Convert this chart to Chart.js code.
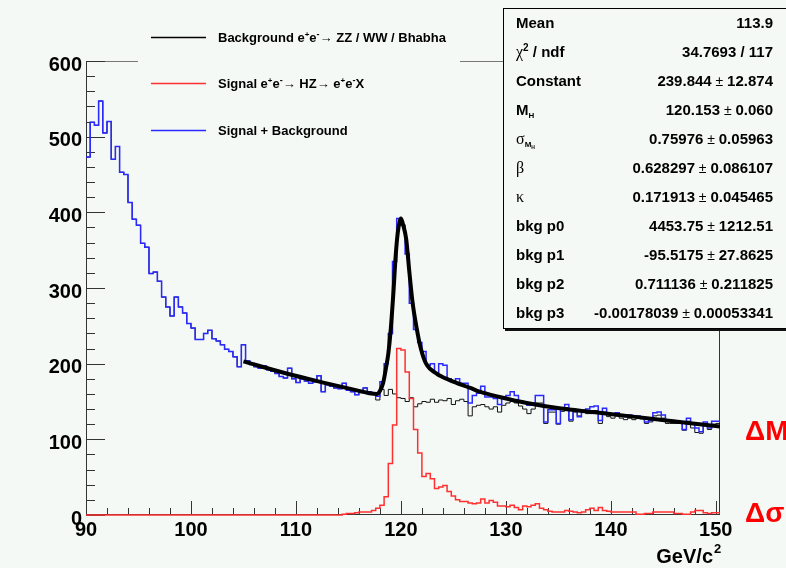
<!DOCTYPE html>
<html>
<head>
<meta charset="utf-8">
<script src="https://cdn.jsdelivr.net/npm/chart.js@4.4.1/dist/chart.umd.min.js"></script>
<style>
html, body { margin: 0; padding: 0; background: #f4f9f6; overflow: hidden; }
</style>
</head>
<body>
<canvas id="mass-chart" width="786" height="568"></canvas>
<script>
// binning of the histograms (GeV/c^2)
const binLow = 90;
const binWidth = 0.4;

// Signal + Background (blue)
const sigBkg = [
    473, 519, 515, 547, 505, 520, 470, 487, 453, 450,
    413, 391, 383, 359, 354, 319, 321, 309, 288, 275,
    263, 288, 275, 267, 253, 247, 232, 232, 240, 244,
    233, 230, 225, 219, 216, 209, 196, 225, 204, 199,
    196, 194, 197, 192, 190, 187, 183, 181, 194, 180,
    175, 180, 177, 174, 176, 184, 163, 172, 170, 168,
    167, 174, 165, 163, 159, 164, 168, 163, 160, 157,
    176, 200, 240, 335, 392, 383, 345, 280, 245, 228,
    216, 198, 200, 188, 200, 198, 180, 176, 180, 174,
    174, 148, 158, 161, 170, 156, 156, 154, 146, 156,
    158, 163, 158, 151, 148, 145, 148, 158, 158, 123,
    139, 139, 121, 141, 146, 126, 139, 130, 138, 140,
    143, 144, 125, 141, 134, 132, 135, 132, 130, 132,
    130, 131, 128, 123, 125, 135, 136, 132, 125, 125,
    123, 123, 113, 128, 121, 115, 110, 123, 115, 124,
    124
];

// Background e+e- -> ZZ / WW / Bhabha (black)
const background = [
    473, 519, 515, 547, 505, 520, 470, 487, 453, 450,
    413, 391, 383, 359, 354, 319, 321, 309, 288, 275,
    263, 288, 275, 267, 253, 247, 232, 232, 240, 244,
    233, 230, 225, 219, 216, 209, 196, 225, 204, 199,
    196, 194, 197, 192, 190, 187, 183, 181, 194, 180,
    175, 180, 177, 174, 176, 184, 163, 172, 170, 168,
    167, 174, 165, 163, 159, 164, 168, 163, 160, 152,
    166, 158, 166, 160, 155, 154, 150, 155, 143, 147,
    150, 149, 153, 149, 152, 151, 154, 146, 151, 153,
    150, 131, 143, 145, 146, 143, 140, 143, 136, 145,
    148, 150, 148, 144, 140, 134, 140, 148, 148, 121,
    136, 136, 120, 137, 142, 124, 136, 131, 136, 134,
    134, 138, 121, 136, 130, 128, 131, 128, 126, 128,
    126, 130, 127, 121, 123, 131, 132, 128, 121, 121,
    121, 121, 112, 124, 115, 109, 108, 120, 113, 120,
    121
];

// Signal e+e- -> HZ -> e+e-X (red)
const signal = [
    0, 0, 0, 0, 0, 0, 0, 0, 0, 0,
    0, 0, 0, 0, 0, 0, 0, 0, 0, 0,
    0, 0, 0, 0, 0, 0, 0, 0, 0, 0,
    0, 0, 0, 0, 0, 0, 0, 0, 0, 0,
    0, 0, 0, 0, 0, 0, 0, 0, 0, 0,
    0, 0, 0, 0, 0, 0, 0, 0, 0, 0,
    0, 1, 2, 2, 3, 4, 4, 4, 6, 9,
    13, 24, 68, 119, 220, 218, 189, 154, 113, 82,
    51, 55, 48, 35, 37, 39, 31, 25, 20, 18,
    18, 16, 15, 16, 21, 16, 19, 17, 12, 12,
    11, 13, 10, 7, 12, 11, 13, 15, 9, 7,
    5, 4, 4, 4, 6, 5, 4, 3, 4, 7,
    9, 6, 10, 6, 5, 4, 4, 4, 4, 4,
    4, 1, 1, 2, 2, 4, 4, 4, 4, 4,
    2, 2, 1, 1, 4, 6, 6, 3, 2, 3,
    3
];

// fitted function
const fitMass = [105.0, 109.1, 112.3, 115.4, 117.0, 117.7, 118.0, 118.3, 118.6, 118.8,
    119.0, 119.3, 119.5, 119.7, 119.9, 120.0, 120.2, 120.5, 120.8, 121.1,
    121.5, 121.9, 122.4, 123.4, 124.7, 126.6, 127.5, 129.4, 132.0, 135.1,
    138.3, 141.5, 144.7, 147.8, 150.4];
const fitCounts = [203, 187, 176, 166, 161, 160, 164, 174, 196, 213,
    240, 297, 342, 373, 389, 392, 384, 365, 322, 282,
    247, 220, 200, 187, 178, 168, 163, 156, 148, 141,
    136, 131, 126, 121, 117];

// axis ticks
const xTickLabels = [90, 100, 110, 120, 130, 140, 150];
const yTickLabels = [0, 100, 200, 300, 400, 500, 600];

// stats box rows
const statNames = ['Mean', 'chi2', 'Constant', 'MH', 'sigma', 'beta', 'kappa', 'bkg p0', 'bkg p1', 'bkg p2', 'bkg p3'];
const statValues = ['113.9', '34.7693 / 117', '239.844|12.874', '120.153|0.060', '0.75976|0.05963',
    '0.628297|0.086107', '0.171913|0.045465', '4453.75|1212.51', '-95.5175|27.8625',
    '0.711136|0.211825', '-0.00178039|0.00053341'];

const BG = '#f4f9f6';
const B = n => 'bold ' + n + 'px "Liberation Sans", Arial, sans-serif';
const N = n => n + 'px "Liberation Sans", Arial, sans-serif';
const G = n => n + 'px "Liberation Serif", "DejaVu Serif", serif';

// one point per bin low edge, plus the upper edge of the last bin
function histPoints(values) {
    const pts = values.map((v, i) => ({ x: binLow + i * binWidth, y: v }));
    pts.push({ x: binLow + values.length * binWidth, y: values[values.length - 1] });
    return pts;
}

function drawSegs(ctx, segs, x, y, align) {
    let w = 0;
    segs.forEach(s => { ctx.font = s.f; w += ctx.measureText(s.t).width; });
    let cx = align === 'right' ? x - w : x;
    ctx.textAlign = 'left';
    segs.forEach(s => {
        ctx.font = s.f;
        ctx.fillText(s.t, cx, y + (s.dy || 0));
        cx += ctx.measureText(s.t).width;
    });
}

function statLabel(name) {
    if (name === 'chi2') return [{ t: 'χ', f: G(16) }, { t: '2', f: B(10), dy: -6 }, { t: ' / ndf', f: B(15) }];
    if (name === 'MH') return [{ t: 'M', f: B(15) }, { t: 'H', f: B(8), dy: 3 }];
    if (name === 'sigma') return [{ t: 'σ', f: G(16) }, { t: 'M', f: B(8), dy: 3 }, { t: 'H', f: B(5), dy: 5 }];
    if (name === 'beta') return [{ t: 'β', f: G(16) }];
    if (name === 'kappa') return [{ t: 'κ', f: G(16) }];
    return [{ t: name, f: B(15) }];
}

const rootStyle = {
    id: 'rootStyle',
    beforeDraw(chart) {
        const ctx = chart.ctx;
        ctx.save();
        ctx.fillStyle = BG;
        ctx.fillRect(0, 0, chart.width, chart.height);
        ctx.restore();
    },
    beforeDatasetsDraw(chart) {
        const ctx = chart.ctx;
        const xs = chart.scales.x, ys = chart.scales.y;
        const a = chart.chartArea;
        ctx.save();
        ctx.lineWidth = 1;
        // frame
        ctx.strokeStyle = '#777';
        ctx.beginPath();
        ctx.moveTo(a.left, a.top + 0.5);
        ctx.lineTo(a.right, a.top + 0.5);
        ctx.stroke();
        ctx.strokeStyle = '#8b1010';
        ctx.beginPath();
        ctx.moveTo(a.right - 0.5, a.top);
        ctx.lineTo(a.right - 0.5, a.bottom);
        ctx.stroke();
        ctx.strokeStyle = '#333';
        ctx.beginPath();
        ctx.moveTo(a.left + 0.5, a.top);
        ctx.lineTo(a.left + 0.5, a.bottom);
        ctx.moveTo(a.left, a.bottom - 0.5);
        ctx.lineTo(a.right, a.bottom - 0.5);
        ctx.stroke();
        // y ticks, inside the frame
        ctx.beginPath();
        for (let v = 0; v <= 600; v += 20) {
            const py = Math.round(ys.getPixelForValue(v)) + 0.5;
            const len = v % 100 === 0 ? 19 : 9;
            ctx.moveTo(a.left, py);
            ctx.lineTo(a.left + len, py);
        }
        // x ticks
        for (let v = 90; v <= 150; v += 2) {
            const px = Math.round(xs.getPixelForValue(v)) + 0.5;
            const len = v % 10 === 0 ? 14 : 7;
            ctx.moveTo(px, a.bottom);
            ctx.lineTo(px, a.bottom - len);
        }
        ctx.stroke();
        ctx.restore();
    },
    afterDraw(chart) {
        const ctx = chart.ctx;
        const xs = chart.scales.x, ys = chart.scales.y;
        ctx.save();
        ctx.fillStyle = '#000';
        ctx.textBaseline = 'alphabetic';

        // tick labels
        ctx.font = B(20);
        ctx.textAlign = 'right';
        yTickLabels.forEach(v => ctx.fillText(String(v), 82, ys.getPixelForValue(v) + 9.5));
        ctx.textAlign = 'center';
        xTickLabels.forEach(v => ctx.fillText(String(v), xs.getPixelForValue(v), 536));

        // axis title
        drawSegs(ctx, [{ t: 'GeV/c', f: B(20) }], 713, 563, 'right');
        drawSegs(ctx, [{ t: '2', f: B(13) }], 714, 553, 'left');

        // legend box (no border, hides the frame top)
        ctx.fillStyle = BG;
        ctx.fillRect(138, 4, 322, 152);
        const legend = [
            { c: '#000000', y: 37, segs: [{ t: 'Background e', f: B(13) }, { t: '+', f: B(8), dy: -5 }, { t: 'e', f: B(13) }, { t: '-', f: B(9), dy: -5 }, { t: '→ ZZ / WW / Bhabha', f: B(13) }] },
            { c: '#ff3030', y: 83, segs: [{ t: 'Signal e', f: B(13) }, { t: '+', f: B(8), dy: -5 }, { t: 'e', f: B(13) }, { t: '-', f: B(9), dy: -5 }, { t: '→ HZ→ e', f: B(13) }, { t: '+', f: B(8), dy: -5 }, { t: 'e', f: B(13) }, { t: '-', f: B(9), dy: -5 }, { t: 'X', f: B(13) }] },
            { c: '#2a2aff', y: 130, segs: [{ t: 'Signal + Background', f: B(13) }] }
        ];
        legend.forEach(e => {
            ctx.strokeStyle = e.c;
            ctx.lineWidth = 1.3;
            ctx.beginPath();
            ctx.moveTo(151, e.y + 0.5);
            ctx.lineTo(206, e.y + 0.5);
            ctx.stroke();
            ctx.fillStyle = '#000';
            drawSegs(ctx, e.segs, 218, e.y + 5, 'left');
        });

        // stats box with shadow
        ctx.fillStyle = '#111';
        ctx.fillRect(505, 10, 300, 321);
        ctx.fillStyle = BG;
        ctx.fillRect(503, 8, 300, 321);
        ctx.strokeStyle = '#000';
        ctx.lineWidth = 1;
        ctx.strokeRect(503.5, 8.5, 300, 320);
        ctx.fillStyle = '#000';
        statNames.forEach((name, i) => {
            const y = 27.5 + 29.03 * i;
            drawSegs(ctx, statLabel(name), 516, y, 'left');
            const parts = statValues[i].split('|');
            const segs = parts.length === 2
                ? [{ t: parts[0], f: B(15) }, { t: ' ± ', f: N(14) }, { t: parts[1], f: B(15) }]
                : [{ t: parts[0], f: B(15) }];
            drawSegs(ctx, segs, 773, y, 'right');
        });

        // fit results on the right, cut by the canvas edge
        ctx.fillStyle = '#ff0000';
        ctx.font = B(28);
        ctx.textAlign = 'left';
        ctx.fillText('ΔM', 745, 440);
        ctx.fillText('Δσ', 745, 522);
        ctx.restore();
    }
};

document.addEventListener('DOMContentLoaded', function() {
    const ctx = document.getElementById('mass-chart').getContext('2d');
    new Chart(ctx, {
        type: 'line',
        data: {
            datasets: [
                {
                    label: 'fit',
                    data: fitMass.map((m, i) => ({ x: m, y: fitCounts[i] })),
                    borderColor: '#000000',
                    borderWidth: 4,
                    cubicInterpolationMode: 'monotone',
                    order: 0
                },
                {
                    label: 'Signal + Background',
                    data: histPoints(sigBkg),
                    borderColor: '#2a2aff',
                    borderWidth: 1.5,
                    stepped: 'before',
                    order: 1
                },
                {
                    label: 'Signal',
                    data: histPoints(signal),
                    borderColor: '#ff3030',
                    borderWidth: 1.5,
                    stepped: 'before',
                    clip: 3,
                    order: 2
                },
                {
                    label: 'Background',
                    data: histPoints(background),
                    borderColor: '#111111',
                    borderWidth: 1,
                    stepped: 'before',
                    order: 3
                }
            ]
        },
        options: {
            responsive: false,
            animation: false,
            devicePixelRatio: 1,
            layout: { padding: { left: 86, top: 61, right: 66, bottom: 53 } },
            elements: { point: { radius: 0 }, line: { fill: false } },
            scales: {
                x: { type: 'linear', min: 90, max: 150.4, display: false },
                y: { type: 'linear', min: 0, max: 600, display: false }
            },
            plugins: {
                legend: { display: false },
                tooltip: { enabled: false }
            }
        },
        plugins: [rootStyle]
    });
});
</script>
</body>
</html>
